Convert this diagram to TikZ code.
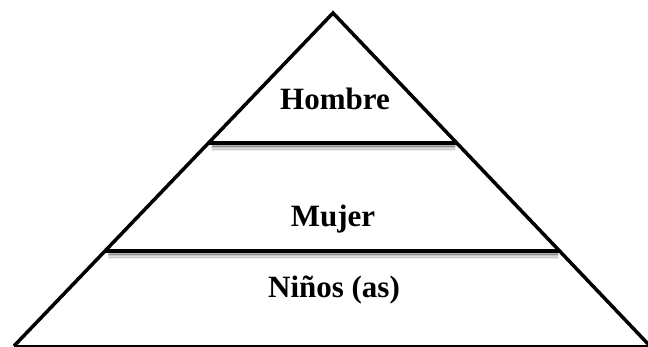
\documentclass[tikz,border=0pt]{standalone}
\usepackage{fontspec}
\setmainfont{Liberation Serif}
\usetikzlibrary{calc}
\begin{document}
\begin{tikzpicture}[x=1pt,y=-1pt,
  side/.style={line width=3.5pt,line join=miter},
  band/.style={line width=4.5pt},
  lbl/.style={font=\fontsize{31}{36}\selectfont\bfseries,anchor=base,inner sep=0pt}]
\useasboundingbox (0,0) rectangle (648,347);
\clip (0,0) rectangle (648,347);
\coordinate (apex) at (333,13);
\coordinate (bl) at (14,346);
\coordinate (br) at (650,346);
\coordinate (l1) at ($(apex)!130/333!(bl)$);
\coordinate (r1) at ($(apex)!130/333!(br)$);
\coordinate (l2) at ($(apex)!238/333!(bl)$);
\coordinate (r2) at ($(apex)!238/333!(br)$);
% shadows
\foreach \o/\op in {3/0.3,4.5/0.22,6/0.14,7.5/0.07}{
  \draw[line width=2pt,draw=black,opacity=\op,line cap=round] ($(l1)+(4,\o)$) -- ($(r1)+(-2,\o)$);
  \draw[line width=2pt,draw=black,opacity=\op,line cap=round] ($(l2)+(4,\o)$) -- ($(r2)+(-2,\o)$);
}
\draw[band] (l1) -- (r1);
\draw[band] (l2) -- (r2);
\draw[side] (bl) -- (apex) -- (br);
\draw[line width=1.6pt] (bl) -- (br);
\node[lbl] (hombre) at (335,110) {Hombre};
\node[lbl] (mujer) at (333,227) {Mujer};
\node[lbl] (ninos) at (334,298) {Niños (as)};
\end{tikzpicture}
\end{document}
